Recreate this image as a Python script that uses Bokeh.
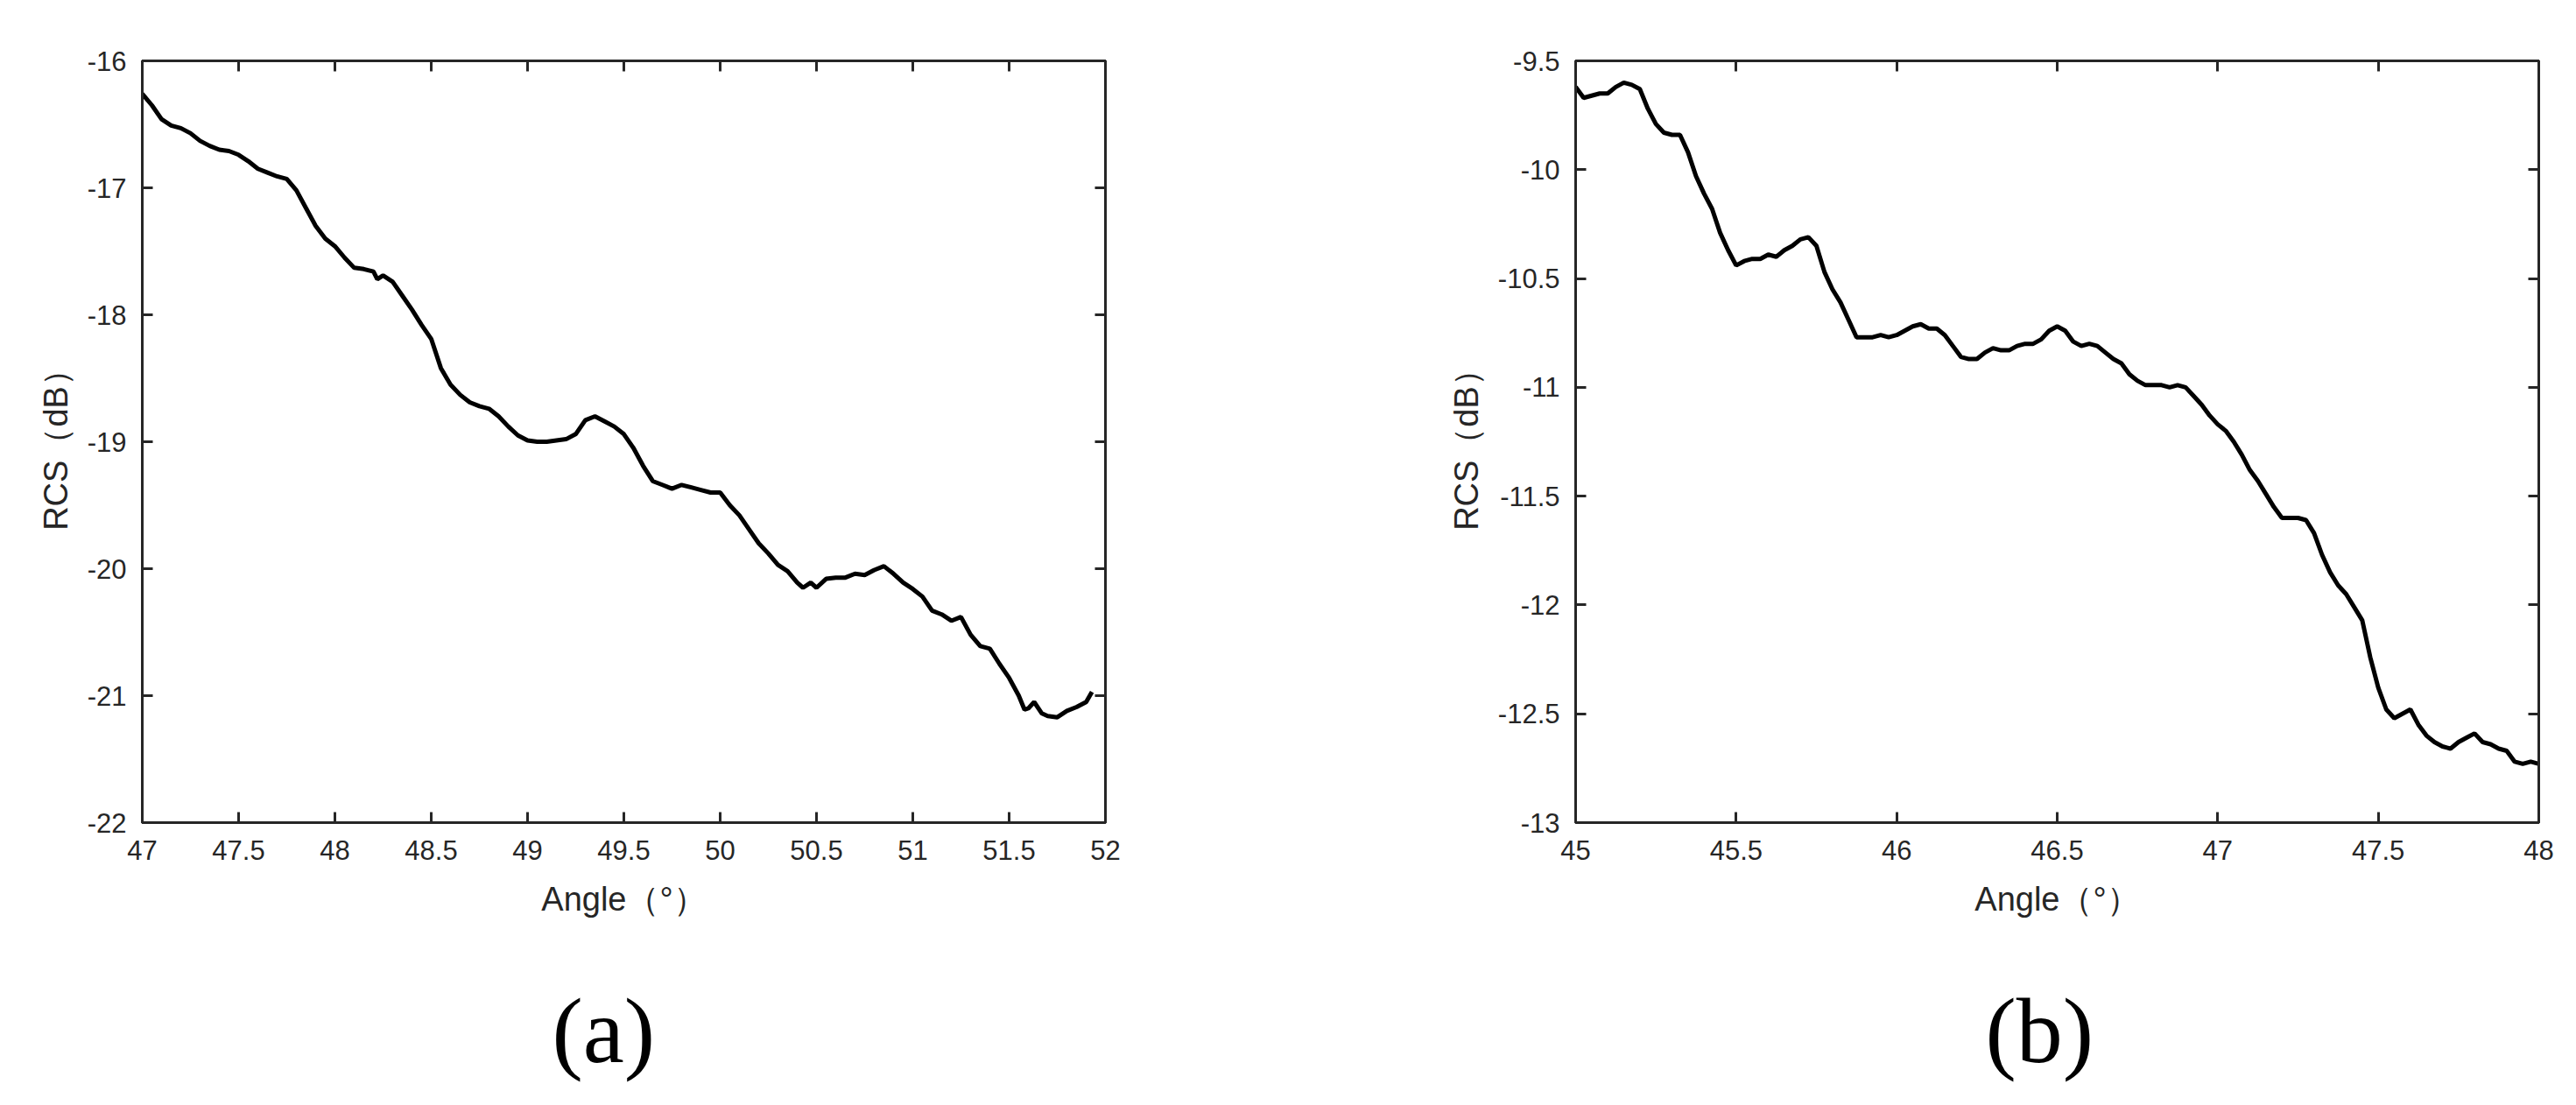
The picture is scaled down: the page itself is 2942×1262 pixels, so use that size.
from bokeh.plotting import figure
from bokeh.layouts import row
from bokeh.models import Range1d, FixedTicker, LinearAxis, CustomJSTickFormatter, Title
from bokeh.embed import file_html
from bokeh.resources import INLINE

# ---- data (a) ----
angle_a = [47.0, 47.05, 47.1, 47.15, 47.2, 47.25, 47.3, 47.35, 47.4, 47.45, 47.5, 47.55, 47.6, 47.65,
           47.7, 47.75, 47.8, 47.85, 47.9, 47.95, 48.0, 48.05, 48.1, 48.15, 48.2, 48.22, 48.25, 48.3,
           48.35, 48.4, 48.45, 48.5, 48.55, 48.6, 48.65, 48.7, 48.75, 48.8, 48.85, 48.9, 48.95, 49.0,
           49.05, 49.1, 49.15, 49.2, 49.25, 49.3, 49.35, 49.4, 49.45, 49.5, 49.55, 49.6, 49.65, 49.7,
           49.75, 49.8, 49.85, 49.9, 49.95, 50.0, 50.05, 50.1, 50.15, 50.2, 50.25, 50.3, 50.35, 50.4,
           50.43, 50.47, 50.5, 50.55, 50.6, 50.65, 50.7, 50.75, 50.8, 50.85, 50.9, 50.95, 51.0, 51.05,
           51.1, 51.15, 51.2, 51.25, 51.3, 51.35, 51.4, 51.45, 51.5, 51.55, 51.58, 51.6, 51.63, 51.67,
           51.7, 51.75, 51.8, 51.85, 51.9, 51.93]
rcs_a = [-16.26, -16.35, -16.46, -16.51, -16.53, -16.57, -16.63, -16.67, -16.70, -16.71, -16.74, -16.79,
         -16.85, -16.88, -16.91, -16.93, -17.02, -17.16, -17.30, -17.40, -17.46, -17.55, -17.63, -17.64,
         -17.66, -17.72, -17.69, -17.74, -17.85, -17.96, -18.08, -18.19, -18.42, -18.55, -18.63, -18.69,
         -18.72, -18.74, -18.80, -18.88, -18.95, -18.99, -19.00, -19.00, -18.99, -18.98, -18.94, -18.83,
         -18.80, -18.84, -18.88, -18.94, -19.05, -19.19, -19.31, -19.34, -19.37, -19.34, -19.36, -19.38,
         -19.40, -19.40, -19.50, -19.58, -19.69, -19.80, -19.88, -19.97, -20.02, -20.11, -20.15, -20.11,
         -20.15, -20.08, -20.07, -20.07, -20.04, -20.05, -20.01, -19.98, -20.04, -20.11, -20.16, -20.22,
         -20.33, -20.36, -20.41, -20.38, -20.52, -20.61, -20.63, -20.75, -20.86, -21.00, -21.11, -21.10,
         -21.05, -21.14, -21.16, -21.17, -21.12, -21.09, -21.05, -20.97]
xticks_a = [47, 47.5, 48, 48.5, 49, 49.5, 50, 50.5, 51, 51.5, 52]
yticks_a = [-22, -21, -20, -19, -18, -17, -16]

# ---- data (b) ----
angle_b = [45.0, 45.025, 45.05, 45.075, 45.1, 45.125, 45.15, 45.175, 45.2, 45.225, 45.25, 45.275, 45.3,
           45.325, 45.35, 45.375, 45.4, 45.425, 45.45, 45.475, 45.5, 45.525, 45.55, 45.575, 45.6, 45.625,
           45.65, 45.675, 45.7, 45.725, 45.75, 45.775, 45.8, 45.825, 45.85, 45.875, 45.9, 45.925, 45.95,
           45.975, 46.0, 46.025, 46.05, 46.075, 46.1, 46.125, 46.15, 46.175, 46.2, 46.225, 46.25, 46.275,
           46.3, 46.325, 46.35, 46.375, 46.4, 46.425, 46.45, 46.475, 46.5, 46.525, 46.55, 46.575, 46.6,
           46.625, 46.65, 46.675, 46.7, 46.725, 46.75, 46.775, 46.8, 46.825, 46.85, 46.875, 46.9, 46.925,
           46.95, 46.975, 47.0, 47.025, 47.05, 47.075, 47.1, 47.125, 47.15, 47.175, 47.2, 47.225, 47.25,
           47.275, 47.3, 47.325, 47.35, 47.375, 47.4, 47.425, 47.45, 47.475, 47.5, 47.525, 47.55, 47.575,
           47.6, 47.625, 47.65, 47.675, 47.7, 47.725, 47.75, 47.775, 47.8, 47.825, 47.85, 47.875, 47.9,
           47.925, 47.95, 47.975, 48.0]
rcs_b = [-9.62, -9.67, -9.66, -9.65, -9.65, -9.62, -9.60, -9.61, -9.63, -9.72, -9.79, -9.83, -9.84,
         -9.84, -9.92, -10.03, -10.11, -10.18, -10.29, -10.37, -10.44, -10.42, -10.41, -10.41, -10.39,
         -10.40, -10.37, -10.35, -10.32, -10.31, -10.35, -10.47, -10.55, -10.61, -10.69, -10.77, -10.77,
         -10.77, -10.76, -10.77, -10.76, -10.74, -10.72, -10.71, -10.73, -10.73, -10.76, -10.81, -10.86,
         -10.87, -10.87, -10.84, -10.82, -10.83, -10.83, -10.81, -10.80, -10.80, -10.78, -10.74, -10.72,
         -10.74, -10.79, -10.81, -10.80, -10.81, -10.84, -10.87, -10.89, -10.94, -10.97, -10.99, -10.99,
         -10.99, -11.00, -10.99, -11.00, -11.04, -11.08, -11.13, -11.17, -11.20, -11.25, -11.31, -11.38,
         -11.43, -11.49, -11.55, -11.60, -11.60, -11.60, -11.61, -11.67, -11.77, -11.85, -11.91, -11.95,
         -12.01, -12.07, -12.24, -12.38, -12.48, -12.52, -12.50, -12.48, -12.55, -12.60, -12.63, -12.65,
         -12.66, -12.63, -12.61, -12.59, -12.63, -12.64, -12.66, -12.67, -12.72, -12.73, -12.72, -12.73]
xticks_b = [45, 45.5, 46, 46.5, 47, 47.5, 48]
yticks_b = [-13, -12.5, -12, -11.5, -11, -10.5, -10, -9.5]

AX = "#262626"
TICK_FONT = "Liberation Sans"
fmt_code = "return tick.toString();"
blank_code = "return '';"


def make_panel(x, y, xr, yr, xt, yt, tag, width, lb, rb):
    p = figure(width=width, height=1262, output_backend="svg", toolbar_location=None,
               x_range=Range1d(*xr), y_range=Range1d(*yr),
               min_border_left=lb, min_border_right=rb, min_border_top=69, min_border_bottom=323,
               x_axis_label="Angle（°）", y_axis_label="RCS（dB）")
    p.grid.visible = False
    p.background_fill_color = "white"
    p.border_fill_color = "white"
    p.outline_line_color = AX
    p.outline_line_width = 3
    p.line(x, y, line_color="black", line_width=5)

    for ax, ticks in ((p.xaxis[0], xt), (p.yaxis[0], yt)):
        ax.ticker = FixedTicker(ticks=ticks)
        ax.formatter = CustomJSTickFormatter(code=fmt_code)
        ax.major_tick_in = 12
        ax.major_tick_out = 0
        ax.minor_tick_line_color = None
        ax.axis_line_color = AX
        ax.axis_line_width = 3
        ax.major_tick_line_color = AX
        ax.major_tick_line_width = 3
        ax.major_label_text_font = TICK_FONT
        ax.major_label_text_font_size = "31px"
        ax.major_label_text_color = AX
        ax.axis_label_text_font = TICK_FONT
        ax.axis_label_text_font_size = "38px"
        ax.axis_label_text_font_style = "normal"
        ax.axis_label_text_color = AX
    p.xaxis.major_label_standoff = 20
    p.yaxis.major_label_standoff = 18
    p.xaxis.axis_label_standoff = 21
    p.yaxis.axis_label_standoff = 12

    # mirrored inward ticks on top and right (box on)
    for side, ticks in (("above", xt), ("right", yt)):
        ax = LinearAxis(ticker=FixedTicker(ticks=ticks), formatter=CustomJSTickFormatter(code=blank_code),
                        major_tick_in=12, major_tick_out=0, minor_tick_line_color=None,
                        axis_line_color=AX, axis_line_width=3, major_tick_line_color=AX,
                        major_tick_line_width=3, major_label_standoff=0)
        p.add_layout(ax, side)

    # invisible spacer between the x axis and the panel tag
    spacer = LinearAxis(ticker=FixedTicker(ticks=[xt[0]]), formatter=CustomJSTickFormatter(code=blank_code),
                        major_tick_in=0, major_tick_out=66, minor_tick_line_color=None,
                        axis_line_color=None, major_tick_line_color=None, major_label_standoff=0)
    p.add_layout(spacer, "below")

    t = Title(text=tag, align="left", offset=468, text_font="Liberation Serif",
              text_font_size="106px", text_font_style="normal", text_color="black", standoff=0)
    p.add_layout(t, "below")
    return p


pa = make_panel(angle_a, rcs_a, (47, 52), (-22, -16), xticks_a, yticks_a, "(a)", 1342, 162, 80)
pb = make_panel(angle_b, rcs_b, (45, 48), (-13, -9.5), xticks_b, yticks_b, "(b)", 1592, 457, 35)

layout = row(pa, pb)
open("out.html", "w").write(file_html(layout, INLINE))
